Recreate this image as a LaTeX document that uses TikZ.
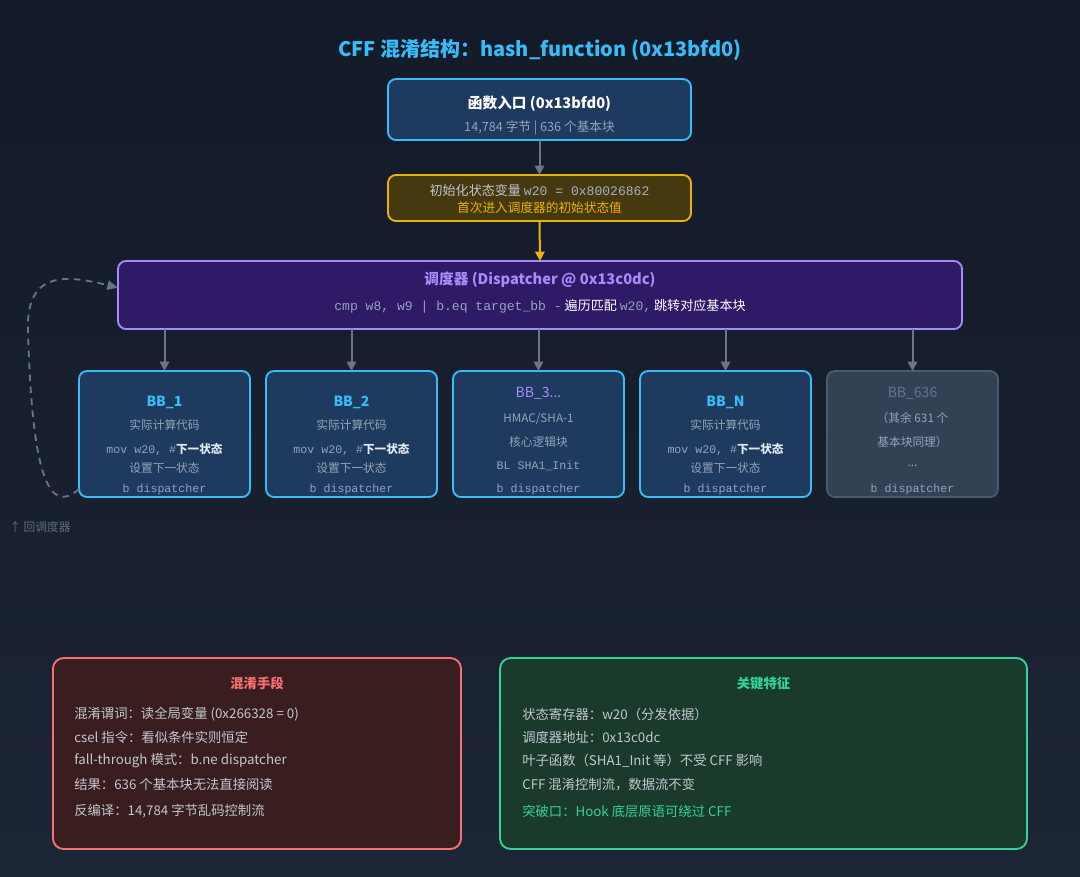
\documentclass[tikz,border=0pt]{standalone}
\usepackage{fontspec}
\setmainfont{Noto Sans CJK SC}
\setmonofont{Liberation Mono}
\usetikzlibrary{arrows.meta,calc}
\definecolor{bgtop}{HTML}{131A28}
\definecolor{bgbot}{HTML}{1C2536}
\definecolor{sky}{HTML}{38BDF8}
\definecolor{skyfill}{HTML}{1E3A5F}
\definecolor{amber}{HTML}{EAB308}
\definecolor{amberfill}{HTML}{46390F}
\definecolor{violet}{HTML}{A78BFA}
\definecolor{violetfill}{HTML}{2E1A66}
\definecolor{slatefill}{HTML}{334155}
\definecolor{slateline}{HTML}{4B5A6E}
\definecolor{muted}{HTML}{94A3B8}
\definecolor{dim}{HTML}{64748B}
\definecolor{conn}{HTML}{6B7788}
\definecolor{redline}{HTML}{F87171}
\definecolor{redfill}{HTML}{3A1D1F}
\definecolor{greenline}{HTML}{34D399}
\definecolor{greenfill}{HTML}{1A3A2C}
\definecolor{bodytext}{HTML}{C0C7D0}
\definecolor{lighttext}{HTML}{E2E8F0}
\begin{document}
\begin{tikzpicture}[x=0.75pt,y=-0.75pt,
  boxbase/.style={rounded corners=6pt, line width=1.4pt, inner sep=0pt, outer sep=0pt},
  skybox/.style={boxbase, draw=sky, fill=skyfill},
  bbbox/.style={skybox, minimum width=128.25pt, minimum height=94.5pt},
  txt/.style={inner sep=0pt, font=\fontsize{8.8}{10}\selectfont, text=muted},
  bbtitle/.style={inner sep=0pt, font=\fontsize{10.5}{12}\selectfont\bfseries, text=sky},
  mono/.style={inner sep=0pt, font=\fontsize{8.7}{10}\ttfamily, text=muted},
  garrow/.style={draw=conn, line width=1.5pt, -{Triangle[length=7pt,width=7pt]}},
  listtxt/.style={inner sep=0pt, anchor=west, font=\fontsize{10}{12}\selectfont, text=bodytext}
]
\shade[top color=bgtop, bottom color=bgbot] (0,0) rectangle (1080,876);
\useasboundingbox (0,0) rectangle (1080,876);

% title
\node[inner sep=0pt, text=sky, font=\fontsize{15}{18}\selectfont\bfseries] (title) at (540,50) {CFF 混淆结构：hash\_function (0x13bfd0)};

% entry
\node[skybox, minimum width=227.25pt, minimum height=45.75pt] (entry) at (539.5,109.5) {};
\node[inner sep=0pt, text=white, font=\fontsize{11}{13}\selectfont\bfseries] (entryt) at (539.5,104) {函数入口 (0x13bfd0)};
\node[inner sep=0pt, text=muted, font=\fontsize{9.5}{11}\selectfont] (entrys) at (539.5,128) {14,784 字节 | 636 个基本块};

% init
\node[boxbase, draw=amber, fill=amberfill, minimum width=227.25pt, minimum height=34.5pt] (init) at (539.5,198) {};
\node[inner sep=0pt, text=lighttext!85!black, font=\fontsize{9.8}{11}\selectfont] (initt) at (539.5,190) {初始化状态变量 {\ttfamily\color{muted!85!white} w20 = 0x80026862}};
\node[inner sep=0pt, text=amber, font=\fontsize{9.5}{11}\selectfont] (inits) at (539.5,208) {首次进入调度器的初始状态值};

% dispatcher
\node[boxbase, draw=violet, fill=violetfill, minimum width=633pt, minimum height=51pt] (disp) at (540,295) {};
\node[inner sep=0pt, text=violet, font=\fontsize{11}{13}\selectfont\bfseries] (dispt) at (540,280) {调度器 (Dispatcher @ 0x13c0dc)};
\node[inner sep=0pt, text=white, font=\fontsize{9.8}{11}\selectfont] (disps) at (540,306) {{\ttfamily\color{muted} cmp w8, w9 | b.eq target\_bb -} 遍历匹配 {\ttfamily\color{muted}w20,} 跳转对应基本块};

\draw[garrow] (entry.south) -- (init.north);
\draw[draw=amber, line width=1.5pt, -{Triangle[length=7pt,width=7pt]}] (init.south) -- (disp.north);

% basic blocks
\node[bbbox] (bb1) at (164.5,434) {};
\node[bbbox] (bb2) at (351.5,434) {};
\node[bbbox] (bb3) at (538.5,434) {};
\node[bbbox] (bbn) at (725.5,434) {};
\node[boxbase, draw=slateline, fill=slatefill, minimum width=128.25pt, minimum height=94.5pt] (bb636) at (912.5,434) {};

\foreach \b in {bb1,bb2,bb3,bbn,bb636}{
  \draw[garrow] (\b.north |- disp.south) -- (\b.north);
}

% BB_1
\node[bbtitle] (bb1t) at (164.5,402) {BB\_1};
\node[txt] (bb1a) at (164.5,425) {实际计算代码};
\node[mono] (bb1b) at (164.5,449) {mov w20, \#{\rmfamily\bfseries\color{lighttext}下一状态}};
\node[txt] (bb1c) at (164.5,468) {设置下一状态};
\node[mono] (bb1d) at (164.5,489) {b dispatcher};
% BB_2
\node[bbtitle] (bb2t) at (351.5,402) {BB\_2};
\node[txt] (bb2a) at (351.5,425) {实际计算代码};
\node[mono] (bb2b) at (351.5,449) {mov w20, \#{\rmfamily\bfseries\color{lighttext}下一状态}};
\node[txt] (bb2c) at (351.5,468) {设置下一状态};
\node[mono] (bb2d) at (351.5,489) {b dispatcher};
% BB_3
\node[bbtitle, text=violet, font=\fontsize{10.5}{12}\selectfont] (bb3t) at (538.5,393) {BB\_3...};
\node[txt] (bb3a) at (538.5,419) {HMAC/SHA-1};
\node[txt] (bb3b) at (538.5,442) {核心逻辑块};
\node[mono] (bb3c) at (538.5,466) {BL SHA1\_Init};
\node[mono] (bb3d) at (538.5,489) {b dispatcher};
% BB_N
\node[bbtitle] (bbnt) at (725.5,402) {BB\_N};
\node[txt] (bbna) at (725.5,425) {实际计算代码};
\node[mono] (bbnb) at (725.5,449) {mov w20, \#{\rmfamily\bfseries\color{lighttext}下一状态}};
\node[txt] (bbnc) at (725.5,468) {设置下一状态};
\node[mono] (bbnd) at (725.5,489) {b dispatcher};
% BB_636
\node[bbtitle, text=dim, font=\fontsize{10.5}{12}\selectfont] (bb636t) at (912.5,393) {BB\_636};
\node[txt] (bb636a) at (912.5,418) {（其余 631 个};
\node[txt] (bb636b) at (912.5,442) {基本块同理）};
\node[txt] (bb636c) at (912.5,466) {...};
\node[mono] (bb636d) at (912.5,489) {b dispatcher};

% loop back
\coordinate (loopS) at ($(bb1.south west)+(0,6pt)$);
\coordinate (loopE) at ($(disp.west)+(0,5.5pt)$);
\draw[draw=dim, line width=1.4pt, dash pattern=on 5pt off 4pt, -{Triangle[length=8pt,width=7pt]}]
  (loopS) .. controls (50,515) and (32,480) .. (28,330) .. controls (26,268) and (70,276) .. (loopE);
\node[inner sep=0pt, anchor=west, text=slateline!90!white, font=\fontsize{8.8}{10}\selectfont] (backlbl) at (9,527) {↑ 回调度器};

% red box
\node[boxbase, draw=redline, fill=redfill, rounded corners=8pt, minimum width=306pt, minimum height=143.25pt] (obf) at (257,753.5) {};
\node[inner sep=0pt, text=redline, font=\fontsize{10}{12}\selectfont\bfseries] (obft) at (257,683) {混淆手段};
\node[listtxt] (obf1) at (74,714) {混淆谓词：读全局变量 (0x266328 = 0)};
\node[listtxt] (obf2) at (74,737) {csel 指令：看似条件实则恒定};
\node[listtxt] (obf3) at (74,761) {fall-through 模式：b.ne dispatcher};
\node[listtxt] (obf4) at (74,784) {结果：636 个基本块无法直接阅读};
\node[listtxt] (obf5) at (74,811) {反编译：14,784 字节乱码控制流};

% green box
\node[boxbase, draw=greenline, fill=greenfill, rounded corners=8pt, minimum width=395.25pt, minimum height=143.25pt] (key) at (763.5,753.5) {};
\node[inner sep=0pt, text=greenline, font=\fontsize{10}{12}\selectfont\bfseries] (keyt) at (763.5,683) {关键特征};
\node[listtxt] (key1) at (522,714) {状态寄存器：w20（分发依据）};
\node[listtxt] (key2) at (522,737) {调度器地址：0x13c0dc};
\node[listtxt] (key3) at (522,761) {叶子函数（SHA1\_Init 等）不受 CFF 影响};
\node[listtxt] (key4) at (522,785) {CFF 混淆控制流，数据流不变};
\node[listtxt, text=greenline] (key5) at (522,811) {突破口：Hook 底层原语可绕过 CFF};
\end{tikzpicture}
\end{document}
